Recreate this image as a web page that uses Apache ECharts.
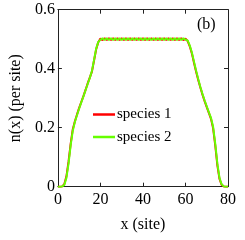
<!DOCTYPE html>
<html>
<head>
<meta charset="utf-8">
<script src="https://cdn.jsdelivr.net/npm/echarts@6/dist/echarts.min.js"></script>
<style>html,body{margin:0;padding:0;background:#fff}#c{width:245px;height:240px}</style>
</head>
<body>
<div id="c"></div>
<script>
var seriesNames = ['species 1', 'species 2'];
var xTicks = ['0', '20', '40', '60', '80'];
var yTicks = ['0', '0.2', '0.4', '0.6'];
var species1 = [
  0, 0, 0.001, 0.008, 0.035, 0.085, 0.145, 0.195, 0.222, 0.245,
  0.267, 0.287, 0.307, 0.328, 0.35, 0.37, 0.39, 0.428, 0.466, 0.49,
  0.502, 0.497, 0.503, 0.497, 0.503, 0.497, 0.503, 0.497, 0.503, 0.497,
  0.503, 0.497, 0.503, 0.497, 0.503, 0.497, 0.503, 0.497, 0.503, 0.497,
  0.503, 0.497, 0.503, 0.497, 0.503, 0.497, 0.503, 0.497, 0.503, 0.497,
  0.503, 0.497, 0.503, 0.497, 0.503, 0.497, 0.503, 0.497, 0.503, 0.497,
  0.502, 0.494, 0.476, 0.452, 0.42, 0.39, 0.362, 0.336, 0.312, 0.29,
  0.27, 0.25, 0.23, 0.198, 0.14, 0.072, 0.026, 0.006, 0.001, 0,
  0
];
var species2 = [
  0, 0, 0.001, 0.006, 0.03, 0.078, 0.14, 0.19, 0.22, 0.243,
  0.265, 0.286, 0.306, 0.327, 0.348, 0.369, 0.392, 0.43, 0.468, 0.491,
  0.498, 0.503, 0.497, 0.503, 0.497, 0.503, 0.497, 0.503, 0.497, 0.503,
  0.497, 0.503, 0.497, 0.503, 0.497, 0.503, 0.497, 0.503, 0.497, 0.503,
  0.497, 0.503, 0.497, 0.503, 0.497, 0.503, 0.497, 0.503, 0.497, 0.503,
  0.497, 0.503, 0.497, 0.503, 0.497, 0.503, 0.497, 0.503, 0.497, 0.503,
  0.498, 0.496, 0.479, 0.455, 0.424, 0.393, 0.365, 0.338, 0.314, 0.292,
  0.272, 0.252, 0.233, 0.203, 0.146, 0.078, 0.03, 0.008, 0.001, 0,
  0
];

var FONT = '"Liberation Serif", "Times New Roman", serif';
function pairs(arr) { return arr.map(function (v, i) { return [i, v]; }); }
function xFmt(v) { return xTicks[Math.round(v / 20)]; }
function yFmt(v) { return yTicks[Math.round(v / 0.2)]; }

var axisCommon = {
  axisLine: { show: true, onZero: false, lineStyle: { color: '#222', width: 1 } },
  axisTick: { show: true, inside: true, length: 4, lineStyle: { color: '#222' } },
  splitLine: { show: false }
};

var chart = echarts.init(document.getElementById('c'), null, { renderer: 'canvas' });
chart.setOption({
  animation: false,
  backgroundColor: '#fff',
  grid: { left: 42.7, right: 17, top: 9.7, bottom: 53.3 },
  xAxis: [
    Object.assign({
      type: 'value', min: 0, max: 80, interval: 20, position: 'bottom',
      name: 'x (site)', nameLocation: 'middle', nameGap: 30,
      nameTextStyle: { fontFamily: FONT, fontSize: 16, color: '#000' },
      axisLabel: { formatter: xFmt, fontFamily: FONT, fontSize: 16, color: '#000', margin: 5 }
    }, axisCommon),
    Object.assign({
      type: 'value', min: 0, max: 80, interval: 20, position: 'top',
      axisLabel: { show: false }
    }, axisCommon)
  ],
  yAxis: [
    Object.assign({
      type: 'value', min: 0, max: 0.6, interval: 0.2, position: 'left',
      name: 'n(x) (per site)', nameLocation: 'middle', nameGap: 27,
      nameTextStyle: { fontFamily: FONT, fontSize: 16, color: '#000' },
      axisLabel: { formatter: yFmt, fontFamily: FONT, fontSize: 16, color: '#000', margin: 3 }
    }, axisCommon),
    Object.assign({
      type: 'value', min: 0, max: 0.6, interval: 0.2, position: 'right',
      axisLabel: { show: false }
    }, axisCommon)
  ],
  legend: {
    orient: 'vertical', left: 88, top: 102,
    itemWidth: 22, itemHeight: 2.5, itemGap: 7.5,
    icon: 'rect',
    textStyle: { fontFamily: FONT, fontSize: 15, color: '#000', padding: [0, 0, 0, -3] },
    data: seriesNames
  },
  graphic: [{
    type: 'text', left: 197, top: 17,
    style: { text: '(b)', font: '16px "Liberation Serif", serif', fill: '#000' }
  }],
  series: [
    { name: seriesNames[0], type: 'line', data: pairs(species1), showSymbol: false,
      lineStyle: { color: '#ff0000', width: 2 }, itemStyle: { color: '#ff0000' } },
    { name: seriesNames[1], type: 'line', data: pairs(species2), showSymbol: false,
      lineStyle: { color: '#66ff00', width: 2 }, itemStyle: { color: '#66ff00' } }
  ]
});
</script>
</body>
</html>
